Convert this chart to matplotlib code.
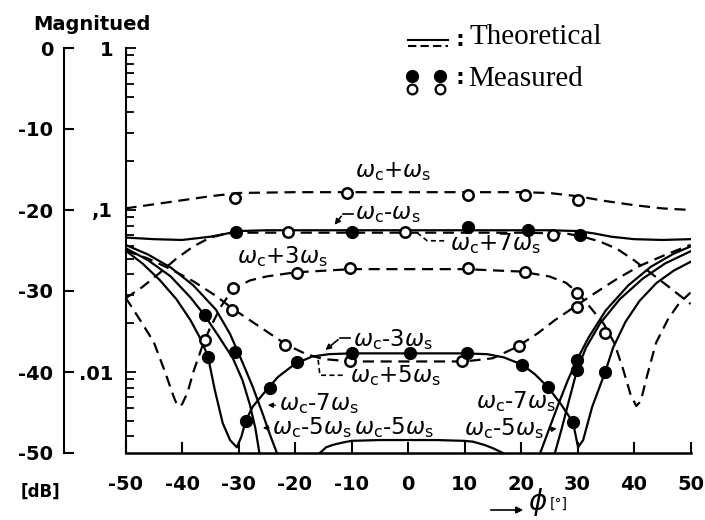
import numpy as np
import matplotlib
matplotlib.use("Agg")
import matplotlib.pyplot as plt
from matplotlib.ticker import FixedLocator, FixedFormatter, LogLocator, NullFormatter

plt.rcParams['font.family'] = ['DejaVu Sans']
plt.rcParams['mathtext.fontset'] = 'dejavusans'
plt.rcParams['axes.unicode_minus'] = False

# ---- theoretical curves (phi in degrees, level in dB) ----
phi_p1 = [-50, -45, -40, -35, -30, -20, -10, 0, 10, 20, 25, 30, 35, 40, 45, 50]
db_p1 = [-19.8, -19.3, -18.8, -18.3, -17.9, -17.8, -17.8, -17.8, -17.8, -17.8, -17.9, -18.3, -18.9, -19.4, -19.8, -20.0]

phi_m1 = [-50, -45, -40, -35, -32, -30, -25, -20, -10, 0, 10, 20, 25, 30, 33, 36, 40, 45, 50]
db_m1 = [-23.4, -23.6, -23.7, -23.3, -22.9, -22.6, -22.5, -22.5, -22.5, -22.5, -22.5, -22.5, -22.5, -22.6, -22.9, -23.3, -23.6, -23.7, -23.6]

phi_p7 = [-50, -47, -44, -41, -38, -35, -32, -28, -20, -10, 0, 10, 20, 28, 31, 34, 37, 40, 43, 46, 50]
db_p7 = [-30.9, -29.5, -27.8, -26.0, -24.5, -23.4, -22.9, -22.8, -22.8, -22.8, -22.8, -22.8, -22.8, -22.9,
         -23.3, -23.9, -24.8, -26.2, -27.8, -29.4, -31.6]

phi_p3 = [-50, -47.5, -45, -43, -41.5, -40.8, -40, -39, -38, -36.5, -35, -33, -31, -28, -25, -20, -10, 0, 10,
          20, 25, 28, 30, 32, 34.6, 36.5, 38, 39.4, 40.4, 41.2, 42.3, 43.9, 46, 48, 50]
db_p3 = [-30.8, -33.5, -36.3, -40.0, -43.0, -44.2, -44.0, -42.5, -40.0, -37.0, -34.5, -31.8, -29.8, -28.7,
         -28.2, -27.7, -27.3, -27.3, -27.3, -27.6, -28.2, -29.0, -30.2, -31.8, -34.0, -36.4, -39.5, -42.8,
         -44.2, -43.6, -40.5, -36.4, -33.5, -31.5, -30.2]

phi_p5 = [-50, -46, -42, -38, -34, -31, -28, -25, -21.6, -18, -15, -10, 0, 10, 15, 19.3, 23, 26, 29.8, 33, 37, 41, 45, 50]
db_p5 = [-25.0, -26.0, -27.3, -28.8, -30.6, -32.2, -33.6, -35.0, -36.6, -37.8, -38.4, -38.7, -38.7, -38.7,
         -38.3, -36.9, -35.2, -33.6, -31.8, -30.3, -28.5, -26.9, -25.7, -24.3]

phi_m3 = [-50, -47, -44, -41, -38.5, -36.5, -35.4, -34.2, -32.8, -31.5, -30.3, -29.5, -28.7, -27.5, -25.5,
          -23, -20, -17, -14, -10, 0, 10, 14, 17, 20.2, 22.5, 24.8, 27, 29.2, 30.1, 31.0, 32.6, 34.9, 36.3,
          38.5, 41, 44, 47, 50]
db_m3 = [-25.0, -26.6, -28.6, -31.0, -33.6, -36.2, -38.1, -42.2, -46.3, -48.4, -49.3, -48.0, -46.0, -44.3,
         -42.6, -40.6, -39.0, -38.1, -37.8, -37.7, -37.7, -37.7, -37.8, -38.2, -39.1, -40.3, -41.9, -43.9,
         -46.2, -49.3, -48.4, -44.3, -40.0, -37.0, -33.8, -31.2, -29.0, -27.5, -26.4]

phi_m5_left = [-50, -46, -42, -38.5, -36, -33.5, -31, -29.3, -28, -27, -26.3]
db_m5_left = [-24.7, -26.2, -28.2, -30.8, -33.0, -35.6, -38.3, -41.0, -44.0, -47.0, -50.0]
phi_m5_mid = [-15.6, -14.5, -13.3, -11.5, -10, -5, 0, 5, 10, 11.5, 13.5, 15, 16.8]
db_m5_mid = [-50.0, -49.3, -49.0, -48.7, -48.5, -48.4, -48.4, -48.4, -48.5, -48.6, -49.0, -49.4, -50.0]
phi_m5_right = [26.0, 27.2, 28.5, 29.9, 31.5, 34, 37.5, 41.5, 45.5, 50]
db_m5_right = [-50.0, -47.0, -43.5, -39.8, -37.0, -34.0, -31.0, -28.5, -26.6, -25.1]

phi_m7_left = [-50, -46, -42, -38, -34, -31.5, -29.3, -27.5, -25.8, -24.4, -23.2]
db_m7_left = [-24.3, -25.5, -27.1, -29.3, -32.3, -35.3, -38.8, -41.8, -45.0, -47.8, -50.0]
phi_m7_right = [23.4, 25, 26.6, 28.3, 29.9, 32, 35, 39, 43, 47, 50]
db_m7_right = [-50.0, -47.0, -44.0, -41.0, -38.5, -35.7, -32.4, -29.3, -27.0, -25.4, -24.5]

# ---- measured points ----
open_phi = [-30.6, -10.8, 10.6, 20.7, 30.1,            # wc+ws
            -21.2, -0.5, 25.7,                          # wc+7ws
            -31.0, -35.9, -19.6, -10.3, 10.6, 20.7, 29.9, 34.9,   # wc+3ws
            -31.2, -21.8, -10.3, 9.6, 19.6, 29.9]       # wc+5ws
open_db = [-18.5, -17.9, -18.1, -18.1, -18.8,
           -22.7, -22.7, -23.1,
           -29.6, -36.0, -27.8, -27.2, -27.2, -27.7, -30.3, -35.2,
           -32.3, -36.7, -38.7, -38.7, -36.8, -32.0]

filled_phi = [-30.5, -9.9, 10.6, 21.2, 30.4,            # wc-ws
              -35.4, -28.7, -24.4, -19.6, -9.9, 0.4, 10.4, 20.2, 24.8, 29.2, 34.9,   # wc-3ws
              -35.9, -30.6, 29.9, 29.9]                  # wc-5ws / wc-7ws
filled_db = [-22.7, -22.7, -22.1, -22.5, -23.1,
             -38.1, -46.0, -42.0, -38.8, -37.7, -37.7, -37.7, -39.1, -41.9, -46.2, -40.0,
             -33.0, -37.5, -38.5, -39.8]

W, H = 705, 520
fig = plt.figure(figsize=(W / 100, H / 100), dpi=100)
ax = fig.add_axes([125.5 / W, 67 / H, 565 / W, 405 / H])
ax.set_xlim(-50, 50)
ax.set_ylim(-50, 0)

lw = 1.6
dsh = (0, (5, 3))
for p, d in [(phi_m1, db_m1), (phi_m3, db_m3), (phi_m5_left, db_m5_left), (phi_m5_mid, db_m5_mid),
             (phi_m5_right, db_m5_right), (phi_m7_left, db_m7_left), (phi_m7_right, db_m7_right)]:
    ax.plot(p, d, color='k', lw=lw)
for p, d in [(phi_p1, db_p1), (phi_p7, db_p7), (phi_p3, db_p3), (phi_p5, db_p5)]:
    ax.plot(p, d, color='k', lw=lw, linestyle=dsh)

ax.plot(open_phi, open_db, 'o', ms=7.5, mfc='white', mec='k', mew=1.8, zorder=5)
ax.plot(filled_phi, filled_db, 'o', ms=8.5, color='k', zorder=5)

# ---- axes ----
for s in ['top', 'right']:
    ax.spines[s].set_visible(False)
ax.spines['left'].set_position(('outward', 44))
ax.spines['left'].set_linewidth(1.5)
ax.spines['bottom'].set_linewidth(1.8)
ax.set_yticks([0, -10, -20, -30, -40, -50])
ax.set_yticklabels(['0', '-10', '-20', '-30', '-40', '-50'], fontweight='bold')
ax.tick_params(axis='y', direction='in', length=7, width=1.5, pad=8, labelsize=14)
ax.set_xticks(np.arange(-50, 51, 10))
ax.set_xticklabels(['-50', '-40', '-30', '-20', '-10', '0', '10', '20', '30', '40', '50'], fontweight='bold')
ax.tick_params(axis='x', direction='in', length=8, width=1.5, pad=16, labelsize=14)

axm = ax.twinx()
axm.set_yscale('log')
axm.set_ylim(10 ** (-2.5), 1)
axm.yaxis.tick_left()
for s in ['top', 'right', 'bottom']:
    axm.spines[s].set_visible(False)
axm.spines['left'].set_linewidth(1.5)
axm.yaxis.set_major_locator(FixedLocator([1, 0.1, 0.01]))
axm.yaxis.set_major_formatter(FixedFormatter(['1', ',1', '.01']))
axm.yaxis.set_minor_locator(LogLocator(base=10, subs=np.arange(2, 10)))
axm.yaxis.set_minor_formatter(NullFormatter())
axm.tick_params(axis='y', which='major', direction='in', length=7, width=1.3, pad=9, labelsize=14)
axm.tick_params(axis='y', which='minor', direction='in', length=6, width=1.3)
for t in axm.get_yticklabels():
    t.set_fontweight('bold')

# ---- curve labels ----
fs = 16.5
def lab(x, y, s):
    ax.text(x, y, s, fontsize=fs, ha='left', va='center')

def om(sign, n=''):
    return r'$\omega_{\mathrm{c}}\text{' + sign + '}' + n + r'\omega_{\mathrm{s}}$'

lab(-9.4, -15.3, om('+'))
lab(-9.4, -20.4, om('-'))
ax.plot([-9.7, -11.5], [-20.5, -20.5], color='k', lw=1.2)
ax.annotate('', xy=(-13.3, -22.1), xytext=(-11.5, -20.5),
            arrowprops=dict(arrowstyle='-|>', color='k', lw=1.2, mutation_scale=8))
lab(7.4, -24.1, om('+', '7'))
ax.plot([1.6, 3.4, 6.6], [-22.8, -23.8, -23.8], color='k', lw=1.2, linestyle=(0, (3, 2)))
lab(-30.3, -25.8, om('+', '3'))
lab(-9.7, -36.0, om('-', '3'))
ax.plot([-10.3, -12.0], [-35.8, -35.8], color='k', lw=1.2)
ax.annotate('', xy=(-15.0, -37.5), xytext=(-12.0, -35.8),
            arrowprops=dict(arrowstyle='-|>', color='k', lw=1.2, mutation_scale=8))
lab(-10.3, -40.4, om('+', '5'))
ax.plot([-15.9, -15.6, -11.0], [-38.5, -40.4, -40.4], color='k', lw=1.2, linestyle=(0, (3, 2)))
lab(-22.8, -43.9, om('-', '7'))
ax.annotate('', xy=(-25.3, -44.1), xytext=(-23.0, -44.1),
            arrowprops=dict(arrowstyle='-|>', color='k', lw=1.0, mutation_scale=7))
lab(-24.0, -46.9, om('-', '5'))
ax.annotate('', xy=(-26.2, -46.9), xytext=(-24.1, -46.9),
            arrowprops=dict(arrowstyle='-|>', color='k', lw=1.0, mutation_scale=7))
lab(-9.6, -46.9, om('-', '5'))
lab(12.0, -43.7, om('-', '7'))
lab(10.0, -47.0, om('-', '5'))
ax.annotate('', xy=(26.8, -46.9), xytext=(24.4, -47.2),
            arrowprops=dict(arrowstyle='-|>', color='k', lw=1.0, mutation_scale=7))

# ---- figure texts ----
def fx(x):
    return x / W
def fy(y):
    return 1 - y / H

fig.text(fx(92), fy(24), 'Magnitued', fontsize=14, fontweight='bold', ha='center', va='center')
fig.text(fx(40), fy(492), '[dB]', fontsize=12, fontweight='bold', ha='center', va='center')
fig.patches.append(matplotlib.patches.FancyArrowPatch((fx(488), fy(510)), (fx(526), fy(510)),
                   transform=fig.transFigure, arrowstyle='-|>', mutation_scale=10, color='k', lw=1.2))
fig.text(fx(538), fy(502), r'$\phi$', fontsize=20, ha='center', va='center')
fig.text(fx(559), fy(504), '[°]', fontsize=10, ha='center', va='center')

# legend
fig.lines.append(matplotlib.lines.Line2D([fx(408), fx(448)], [fy(40), fy(40)], transform=fig.transFigure,
                                         color='k', lw=1.5))
fig.lines.append(matplotlib.lines.Line2D([fx(408), fx(448)], [fy(46), fy(46)], transform=fig.transFigure,
                                         color='k', lw=1.5, linestyle=(0, (4, 2))))
fig.text(fx(460), fy(40), ':', fontsize=16, fontweight='bold', ha='center', va='center')
fig.text(fx(469), fy(37), 'Theoretical', fontsize=21, family='Liberation Serif',
         ha='left', va='center')
fig.lines.append(matplotlib.lines.Line2D([fx(412), fx(440)], [fy(76), fy(76)], transform=fig.transFigure,
                                         linestyle='none', marker='o', ms=8.5, color='k'))
fig.lines.append(matplotlib.lines.Line2D([fx(412), fx(440)], [fy(89), fy(89)], transform=fig.transFigure,
                                         linestyle='none', marker='o', ms=7, mfc='white', mec='k', mew=1.6))
fig.text(fx(460), fy(78), ':', fontsize=16, fontweight='bold', ha='center', va='center')
fig.text(fx(468), fy(79), 'Measured', fontsize=21, family='Liberation Serif',
         ha='left', va='center')

fig.savefig('out.png', dpi=100)
